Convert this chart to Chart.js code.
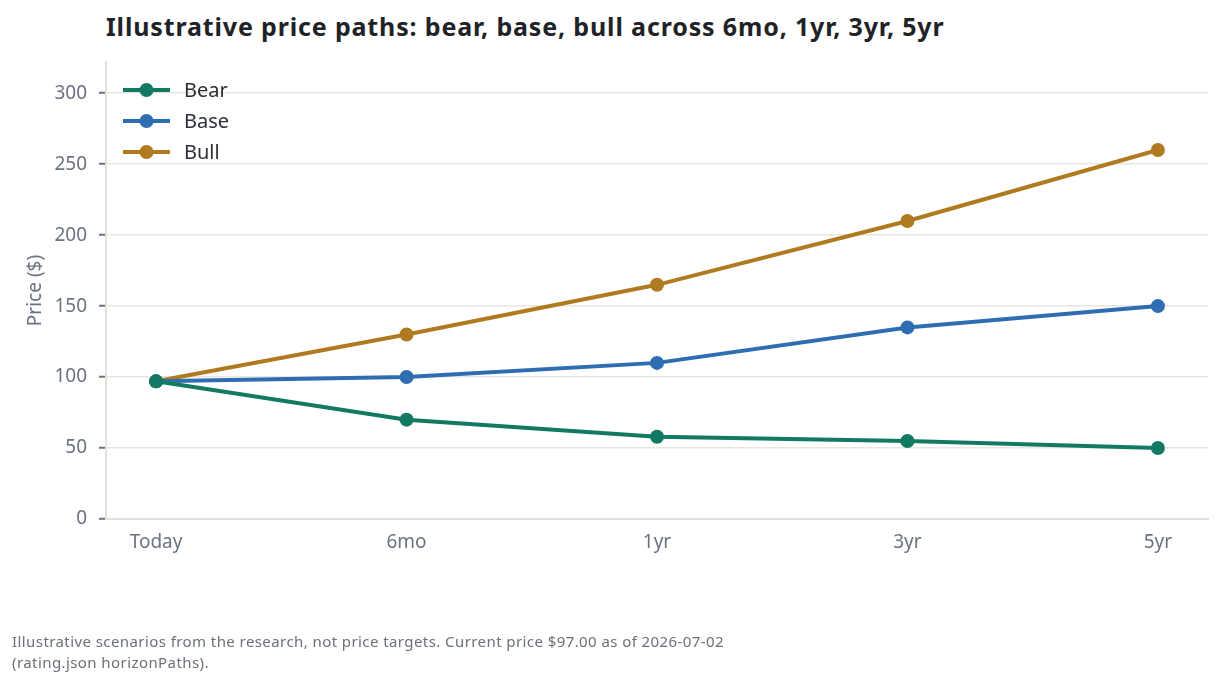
<!DOCTYPE html>
<html>
<head>
<meta charset="utf-8">
<script src="https://cdn.jsdelivr.net/npm/chart.js@4.4.1/dist/chart.umd.min.js"></script>
<style>
  html, body { margin: 0; padding: 0; background: #fff; }
  body { width: 1222px; height: 689px; position: relative; overflow: hidden; font-family: 'Noto Sans', sans-serif; }
  #title { position: absolute; left: 106px; top: 9px; font-size: 25px; font-weight: 700; color: #1f2328; letter-spacing: 0.85px; }
  #note { position: absolute; left: 12px; top: 631px; font-size: 15px; line-height: 21px; color: #6b7079; letter-spacing: 0.42px; }
  #wrap { position: absolute; left: 0; top: 0; width: 1222px; height: 689px; }
</style>
</head>
<body>
<div id="title">Illustrative price paths: bear, base, bull across 6mo, 1yr, 3yr, 5yr</div>
<div id="wrap"><canvas id="c"></canvas></div>
<div id="note">Illustrative scenarios from the research, not price targets. Current price $97.00 as of 2026-07-02<br>(rating.json horizonPaths).</div>
<script>
const horizons = ['Today', '6mo', '1yr', '3yr', '5yr'];
const bear = [97, 70, 58, 55, 50];
const base = [97, 100, 110, 135, 150];
const bull = [97, 130, 165, 210, 260];
const seriesNames = ['Bear', 'Base', 'Bull'];
const seriesColors = ['#127a62', '#2f6db3', '#b07b20'];

Chart.defaults.font.family = "'Noto Sans', sans-serif";

const pts = arr => arr.map((v, i) => ({ x: i, y: v }));
const mk = (i, arr) => ({
    label: seriesNames[i], data: pts(arr),
    borderColor: seriesColors[i], backgroundColor: seriesColors[i],
    borderWidth: 4, pointRadius: 7, pointHoverRadius: 7, pointBorderWidth: 0, tension: 0
});

// legend drawn in the top-left corner of the plot
const legendInside = {
    id: 'legendInside',
    afterDraw(chart) {
        const { ctx, chartArea } = chart;
        ctx.save();
        chart.data.datasets.forEach((ds, i) => {
            const y = chartArea.top + 28 + i * 31;
            const x0 = chartArea.left + 17;
            ctx.strokeStyle = ds.borderColor;
            ctx.lineWidth = 4;
            ctx.beginPath(); ctx.moveTo(x0, y); ctx.lineTo(x0 + 47, y); ctx.stroke();
            ctx.fillStyle = ds.borderColor;
            ctx.beginPath(); ctx.arc(x0 + 23.5, y, 7, 0, Math.PI * 2); ctx.fill();
            ctx.fillStyle = '#2b2f36';
            ctx.font = "20px 'Noto Sans', sans-serif";
            ctx.textBaseline = 'middle';
            ctx.fillText(ds.label, x0 + 61, y + 1);
        });
        ctx.restore();
    }
};

new Chart(document.getElementById('c'), {
    type: 'line',
    data: { datasets: [mk(0, bear), mk(1, base), mk(2, bull)] },
    options: {
        responsive: true, maintainAspectRatio: false, animation: false,
        layout: { padding: { top: 62, right: 14, bottom: 132, left: 20 } },
        plugins: { legend: { display: false }, tooltip: { enabled: false } },
        scales: {
            x: {
                type: 'linear', min: -0.2, max: 4.2,
                afterBuildTicks: s => { s.ticks = horizons.map((_, i) => ({ value: i })); },
                afterFit: s => { s.height = 38; },
                ticks: { callback: v => horizons[v], color: '#6b7280', font: { size: 19 }, padding: 5 },
                grid: { display: false, drawOnChartArea: false, tickLength: 7, tickColor: '#6b7280', tickWidth: 2 },
                border: { color: '#e6e1db', width: 2 }
            },
            y: {
                min: 0, max: 322,
                afterBuildTicks: s => { s.ticks = [0, 50, 100, 150, 200, 250, 300].map(v => ({ value: v })); },
                afterFit: s => { s.width = 86; },
                ticks: { color: '#6b7280', font: { size: 19 }, padding: 12 },
                grid: { color: '#e9e5e0', lineWidth: 1.5, tickLength: 7, tickColor: '#6b7280', tickWidth: 2 },
                border: { color: '#e6e1db', width: 2 },
                title: { display: true, text: 'Price ($)', color: '#6b7280', font: { size: 19 }, padding: { bottom: 14 } }
            }
        }
    },
    plugins: [legendInside]
});
</script>
</body>
</html>
